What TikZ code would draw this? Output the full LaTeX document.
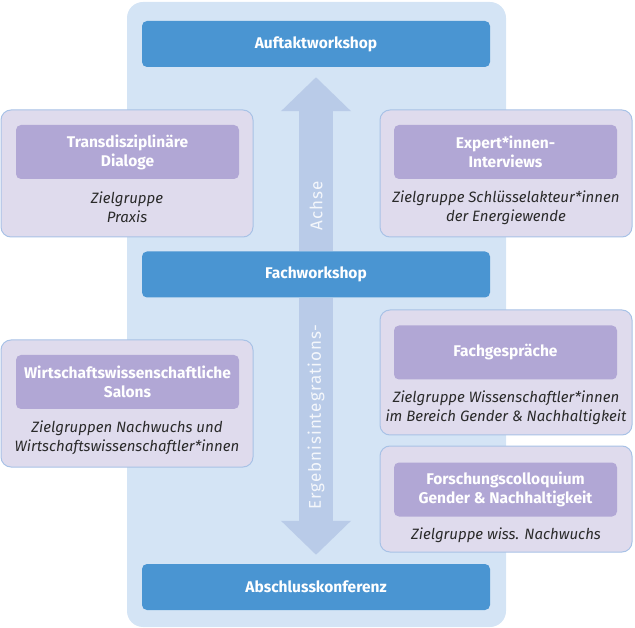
\documentclass[tikz,border=0pt]{standalone}
\usepackage{fontspec}
\setmainfont{Fira Sans}
\usetikzlibrary{arrows.meta,backgrounds}
\definecolor{panelblue}{HTML}{D4E4F5}
\definecolor{barblue}{HTML}{4A95D2}
\definecolor{arrowblue}{HTML}{B9CBE8}
\definecolor{boxlila}{HTML}{DFDBED}
\definecolor{boxedge}{HTML}{A8C2E6}
\definecolor{innerlila}{HTML}{B1A7D5}
\definecolor{notegray}{HTML}{2A2A2A}
\tikzset{
    bar/.style={fill=barblue,rounded corners=5pt,minimum width=348pt,minimum height=46pt,text=white,font=\fontsize{15.5}{19}\selectfont\bfseries},
    outerbox/.style={fill=boxlila,draw=boxedge,line width=1pt,rounded corners=10pt,minimum width=252pt},
    innerbox/.style={fill=innerlila,rounded corners=5pt,minimum width=223pt,minimum height=54pt,inner sep=1pt,text=white,align=center,font=\fontsize{15.5}{19}\selectfont\bfseries},
    note/.style={align=center,text=notegray,inner sep=1pt,font=\fontsize{15}{19}\selectfont\itshape},
    axis/.style={rotate=90,text=white,opacity=0.85,font=\fontsize{17}{20}\selectfont\addfontfeatures{LetterSpace=6}},
    blockarrow/.style={arrowblue,line width=34pt,-{Triangle[width=68pt,length=34pt]}}
}
\begin{document}
\begin{tikzpicture}[x=1pt,y=-1pt]
    \useasboundingbox (0,0) rectangle (635,628);
    % middle column
    \node[bar] (auf) at (316,44) {Auftaktworkshop};
    \node[bar] (fach) at (316,274.5) {Fachworkshop};
    \node[bar] (absch) at (316,587) {Abschlusskonferenz};
    \node[axis] (achse) at (316,206) {Achse};
    \node[axis] (ergebnis) at (316,417) {Ergebnisintegrations-};
    \begin{scope}[on background layer]
        \fill[panelblue,rounded corners=16pt] (127,2) rectangle (506,627);
        \draw[blockarrow,shorten >=10pt] (fach.north) -- (auf.south);
        \draw[blockarrow,shorten >=9pt] (fach.south) -- (absch.north);
    \end{scope}
    % left side
    \node[outerbox,minimum height=127pt] (tdbox) at (127,173.5) {};
    \node[innerbox] (td) at (127.5,152) {Transdisziplinäre\\Dialoge};
    \node[note] (tdnote) at (127,207.5) {Zielgruppe\\Praxis};
    \node[outerbox,minimum height=127pt] (wwbox) at (127,403.5) {};
    \node[innerbox] (ww) at (127.5,382) {Wirtschaftswissenschaftliche\\Salons};
    \node[note] (wwnote) at (127,438) {Zielgruppen Nachwuchs und\\Wirtschaftswissenschaftler*innen};
    % right side
    \node[outerbox,minimum height=127pt] (exbox) at (506,173.5) {};
    \node[innerbox] (ex) at (505.5,152) {Expert*innen-\\Interviews};
    \node[note] (exnote) at (506,207.5) {Zielgruppe Schlüsselakteur*innen\\der Energiewende};
    \node[outerbox,minimum height=125pt] (fgbox) at (506,372.5) {};
    \node[innerbox] (fg) at (505.5,352.5) {Fachgespräche};
    \node[note] (fgnote) at (506,408) {Zielgruppe Wissenschaftler*innen\\im Bereich Gender \& Nachhaltigkeit};
    \node[outerbox,minimum height=106pt] (fcbox) at (506,499) {};
    \node[innerbox] (fc) at (505.5,489.5) {Forschungscolloquium\\Gender \& Nachhaltigkeit};
    \node[note] (fcnote) at (506,535) {Zielgruppe wiss. Nachwuchs};
\end{tikzpicture}
\end{document}
